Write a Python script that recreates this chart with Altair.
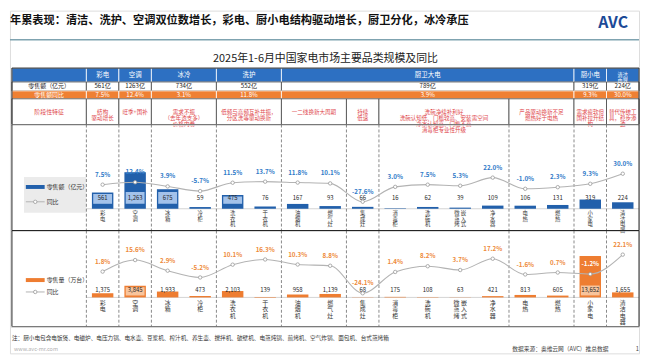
import altair as alt
import pandas as pd

FONT = "Noto Sans CJK SC"

TITLE = "年累表现：清洁、洗护、空调双位数增长，彩电、厨小电结构驱动增长，厨卫分化，冰冷承压"
SUBTITLE = "2025年1-6月中国家电市场主要品类规模及同比"
NOTE = "注：厨小电包含电饭煲、电磁炉、电压力锅、电水壶、豆浆机、榨汁机、养生壶、搅拌机、破壁机、电蒸炖锅、煎烤机、空气炸锅、面包机、台式蒸烤箱"
SOURCE = "数据来源：奥维云网（AVC）推总数据"
SITE = "www.avc-mr.com"

# ---------------- data ----------------
products = ["彩电", "空调", "冰箱", "冷柜", "洗衣机", "干衣机", "油烟机", "燃气灶", "集成灶",
            "消毒柜", "洗碗机", "嵌入式微蒸烤", "净水器", "电热", "燃热", "小家电", "清洁电器"]
sales = [561, 1263, 675, 59, 475, 76, 167, 93, 66, 16, 62, 39, 109, 106, 131, 319, 224]
sales_yoy = [7.5, 12.4, 3.9, -5.7, 11.5, 13.7, 11.8, 10.1, -27.6, 3.0, 7.5, 5.3, 22.0, -1.0, 2.3, 9.3, 30.0]
volume = [1375, 3845, 1933, 473, 2103, 139, 958, 1139, 68, 175, 108, 63, 421, 813, 605, 13652, 1655]
volume_yoy = [1.8, 15.6, 2.9, -5.2, 10.1, 16.3, 10.3, 8.8, -24.1, 1.4, 8.2, 3.7, 17.2, -1.6, 0.7, -1.2, 22.1]

groups = ["彩电", "空调", "冰冷", "洗护", "厨卫大电", "厨小电", "清洁\n电器"]
group_start = [0, 1, 2, 4, 6, 15, 16]
group_end = [1, 2, 4, 6, 15, 16, 17]
group_sales = ["561亿", "1263亿", "734亿", "552亿", "789亿", "319亿", "224亿"]
group_yoy = ["7.5%", "12.4%", "3.1%", "11.8%", "3.9%", "9.3%", "30.0%"]

stages = ["结构\n驱动增长", "旺季+国补", "需求不振\n（去年透支多）\n价格内卷",
          "低频与高频互补共振，\n分区洗等驱动换新", "一二线换新大周期", "持续\n低速",
          "洗碗净续补利好\n洗碗认知低、门槛较高、安装需空间\n净水认知高、门槛不高\n消毒柜专业性升级",
          "产品驱动换新不足\n燃热好于电热", "需求疲软但\n国补拉升结\n构", "替代传统工\n具，稳步渗\n透"]
stage_start = [0, 1, 2, 4, 6, 8, 9, 13, 15, 16]
stage_end = [1, 2, 4, 6, 8, 9, 13, 15, 16, 17]
separators = [0, 1, 2, 4, 6, 8, 9, 13, 15, 16]

# ---------------- style / layout ----------------
BLUE_HEAD = "#2d70c2"
ORANGE = "#ef8033"
BAR_BLUE = "#2260ab"
BAR_ORANGE = "#ee7d31"
BOX_BLUE = "#a3c2ea"
BOX_ORANGE = "#f8c49c"
RED = "#e0474c"
LINE_GRAY = "#b3b3b3"

W = 635
H0, H1, H2, H3, H4 = 58, 57, 107, 97, 27
XL, XR = -2.29, 17.0
xs = alt.Scale(domain=[-2.35, 17.0], nice=False, zero=False)

SB = [-753, 2911]      # sales bar scale
SL = [-86.8, 131.1]    # sales yoy scale
VB = [-9640, 22060]    # volume bar scale
VL = [-64.0, 50.9]     # volume yoy scale

one = pd.DataFrame({"k": [0]})


def vtext(txt, x, y, size, color="#333", align="left", **kw):
    return alt.Chart(one).mark_text(text=txt, align=align, baseline="middle", fontSize=size,
                                    color=color, font=FONT, **kw).encode(x=alt.value(x), y=alt.value(y))


# ---------------- panel 0: titles ----------------
p0 = alt.layer(
    vtext(TITLE, 0, 10.5, 11.3, "#111", fontWeight="bold"),
    vtext("AVC", 624, 13, 16, "#1c4a97", align="right", fontWeight="bold"),
    alt.Chart(one).mark_rule(color="#7fa3b0", strokeWidth=1.5).encode(
        x=alt.value(0), x2=alt.value(W), y=alt.value(29.5)),
    vtext(SUBTITLE, 318.5, 49, 11, "#222", align="center"),
).properties(width=W, height=H0)

# ---------------- panel 1: table ----------------
rows = {"head": (0, 14), "sales": (14, 23), "yoy": (23, 31), "stage": (31, 57)}
cells = []


def add(x0, x1, row, fill, stroke, text, tc, fs, lh):
    y0, y1 = rows[row]
    cells.append(dict(x0=x0, x1=x1, y0=y0, y1=y1, xm=(x0 + x1) / 2, ym=(y0 + y1) / 2,
                      fill=fill, stroke=stroke, text=text, tc=tc, fs=fs, lh=lh))


add(XL, 0, "head", BLUE_HEAD, "#ffffff", "", "#ffffff", 6.5, 7)
add(XL, 0, "sales", "#ffffff", "#444444", "零售额（亿元）", "#222222", 6, 7)
add(XL, 0, "yoy", ORANGE, "#ffffff", "零售额同比", "#ffffff", 6, 7)
add(XL, 0, "stage", "#ffffff", "#444444", "阶段性特征", RED, 6, 7)
for g, s, e, gs, gy in zip(groups, group_start, group_end, group_sales, group_yoy):
    multi = "\n" in g
    add(s, e, "head", BLUE_HEAD, "#ffffff", g, "#ffffff", 5.2 if multi else 6.5, 5.8)
    add(s, e, "sales", "#ffffff", "#444444", gs, "#222222", 6.2, 7)
    add(s, e, "yoy", ORANGE, "#ffffff", gy, "#ffffff", 6.2, 7)
for t, s, e in zip(stages, stage_start, stage_end):
    add(s, e, "stage", "#ffffff", "#444444", t, RED, 5.6, 6.1)
cells = pd.DataFrame(cells)

ys_t = alt.Scale(domain=[0, H1], reverse=True, nice=False, zero=False)
tx = alt.X("x0:Q", scale=xs, axis=None)
ty = alt.Y("y0:Q", scale=ys_t, axis=None)

outer = pd.DataFrame({"x0": [XL], "x1": [XR], "y0": [0], "y1": [H1]})
text_layers = []
for lh in sorted(cells["lh"].unique()):
    sub = cells[cells["lh"] == lh]
    text_layers.append(
        alt.Chart(sub).mark_text(font=FONT, lineBreak="\n", lineHeight=float(lh), baseline="middle").encode(
            x=alt.X("xm:Q", scale=xs, axis=None), y=alt.Y("ym:Q", scale=ys_t, axis=None),
            text="text:N", color=alt.Color("tc:N", scale=None), size=alt.Size("fs:Q", scale=None)))

p1 = alt.layer(
    alt.Chart(cells).mark_rect(strokeWidth=0.8).encode(
        x=tx, x2="x1", y=ty, y2="y1",
        fill=alt.Fill("fill:N", scale=None), stroke=alt.Stroke("stroke:N", scale=None)),
    *text_layers,
    alt.Chart(outer).mark_rect(fillOpacity=0, stroke="#222222", strokeWidth=1).encode(
        x=tx, x2="x1", y=ty, y2="y1"),
).properties(width=W, height=H1)


# ---------------- chart panels ----------------
def vlabel(n):
    if n == "嵌入式微蒸烤":
        return "微 嵌\n蒸 入\n烤 式"
    return "\n".join(n)


def panel(vals, yoys, bdom, ldom, H, bar_color, box_color, lab_color, val_dy, name_dy,
          name_fs, name_lh, box_min, box_lo, box_hi, leg_text, leg_y1, leg_y2, gray_box, top_line):
    bpp = H / (bdom[1] - bdom[0])
    lpp = H / (ldom[1] - ldom[0])
    recs = []
    for i, (n, v, y) in enumerate(zip(products, vals, yoys)):
        label_px = (y - ldom[0]) * lpp + 10
        bar_px = (v - bdom[0]) * bpp
        recs.append(dict(i=i, name=vlabel(n), v=v, yoy=y, zero=0,
                         x0=i + 0.17, x1=i + 0.83, xm=i + 0.5, bx0=i + 0.21, bx1=i + 0.79,
                         vtxt=f"{v:,}", ytxt=f"{y:.1f}%",
                         lc="#ffffff" if label_px + 3 < bar_px else lab_color,
                         boxed=v >= box_min,
                         by0=box_lo / bpp, by1=min(v - 1.5 / bpp, box_hi / bpp)))
    df = pd.DataFrame(recs)
    boxes = df[df["boxed"]]

    ysb = alt.Scale(domain=bdom, nice=False, zero=False)
    ysl = alt.Scale(domain=ldom, nice=False, zero=False)
    X = lambda f: alt.X(f, type="quantitative", scale=xs, axis=None)
    YB = lambda f: alt.Y(f, type="quantitative", scale=ysb, axis=None)
    YL = lambda f: alt.Y(f, type="quantitative", scale=ysl, axis=None)

    seps = pd.DataFrame({"x": separators})
    borders = pd.DataFrame({"x": [XL, XR]})
    base = pd.DataFrame({"x0": [0], "x1": [XR], "zero": [0]})
    hl = pd.DataFrame({"x0": [XL], "x1": [XR]})

    layers = []
    if gray_box:
        gb = pd.DataFrame({"x0": [-1.92], "x1": [0.0]})
        layers.append(alt.Chart(gb).mark_rect(color="#ebebeb").encode(
            x=X("x0"), x2="x1", y=alt.value(53), y2=alt.value(89)))
    layers += [
        alt.Chart(base).mark_rule(color="#c9c9c9", strokeWidth=0.8).encode(
            x=X("x0"), x2="x1", y=YB("zero")),
        alt.Chart(seps).mark_rule(strokeDash=[3, 2], color="#555555", strokeWidth=0.7).encode(
            x=X("x"), y=alt.value(0), y2=alt.value(H)),
        alt.Chart(borders).mark_rule(color="#222222", strokeWidth=1).encode(
            x=X("x"), y=alt.value(0), y2=alt.value(H)),
        alt.Chart(hl).mark_rule(color="#222222", strokeWidth=1).encode(
            x=X("x0"), x2="x1", y=alt.value(H)),
    ]
    if top_line:
        layers.append(alt.Chart(hl).mark_rule(color="#222222", strokeWidth=1).encode(
            x=X("x0"), x2="x1", y=alt.value(0)))
    layers += [
        alt.Chart(df).mark_rect(color=bar_color).encode(x=X("x0"), x2="x1", y=YB("v"), y2="zero"),
        alt.Chart(boxes).mark_rect(color=box_color).encode(x=X("bx0"), x2="bx1", y=YB("by0"), y2="by1"),
        alt.Chart(df).mark_text(font=FONT, fontSize=6, dy=val_dy, color="#2a2a2a").encode(
            x=X("xm"), y=YB("zero"), text="vtxt:N"),
        alt.Chart(df).mark_line(interpolate="monotone", color=LINE_GRAY, strokeWidth=1.1).encode(
            x=X("xm"), y=YL("yoy")),
        alt.Chart(df).mark_point(shape="circle", filled=True, fill="#ffffff", stroke="#9a9a9a",
                                 strokeWidth=0.8, size=12, opacity=1).encode(x=X("xm"), y=YL("yoy")),
        alt.Chart(df).mark_text(font=FONT, fontSize=6.3, dy=-10, fontWeight="bold").encode(
            x=X("xm"), y=YL("yoy"), text="ytxt:N", color=alt.Color("lc:N", scale=None)),
        alt.Chart(df).mark_text(font=FONT, fontSize=name_fs, lineHeight=name_lh, lineBreak="\n",
                                baseline="top", dy=name_dy, color="#333333").encode(
            x=X("xm"), y=YB("zero"), text="name:N"),
        # legend
        alt.Chart(one).mark_rect(color=bar_color).encode(
            x=alt.value(16), x2=alt.value(35), y=alt.value(leg_y1 - 2), y2=alt.value(leg_y1 + 2)),
        vtext(leg_text, 37, leg_y1, 6, "#333333"),
        alt.Chart(one).mark_rule(color=LINE_GRAY, strokeWidth=1).encode(
            x=alt.value(16), x2=alt.value(35), y=alt.value(leg_y2)),
        alt.Chart(one).mark_point(shape="circle", filled=True, fill="#ffffff", stroke="#9a9a9a",
                                  strokeWidth=0.8, size=12, opacity=1).encode(
            x=alt.value(25.5), y=alt.value(leg_y2)),
        vtext("同比", 37, leg_y2, 6, "#333333"),
    ]
    return alt.layer(*layers).resolve_scale(y="independent").properties(width=W, height=H)


p2 = panel(sales, sales_yoy, SB, SL, H2, BAR_BLUE, BOX_BLUE, "#2f7ac8", -10.5, 2.5, 5.4, 5.7,
           440, 5, 17, "零售额（亿元）", 63, 78, True, False)
p3 = panel(volume, volume_yoy, VB, VL, H3, BAR_ORANGE, BOX_ORANGE, "#ee8a3a", -7.5, 2.5, 6.0, 6.6,
           3000, 2, 12, "零售量（万台）", 50, 62, False, True)

# ---------------- panel 4: footer ----------------
p4 = alt.layer(
    vtext(NOTE, 2, 11, 5.7, "#333333"),
    vtext(SITE, 4, 23, 5.5, "#b0b0b0"),
    vtext(SOURCE, 507, 23, 5.8, "#444444"),
    vtext("1", 635, 23, 5.8, "#444444", align="right"),
).properties(width=W, height=H4)

chart = alt.vconcat(p0, p1, p2, p3, p4, spacing=0, bounds="flush").properties(
    padding=0
).configure_view(stroke=None).configure(font=FONT)

chart.save("out.html", embed_options={"renderer": "svg", "actions": False})
